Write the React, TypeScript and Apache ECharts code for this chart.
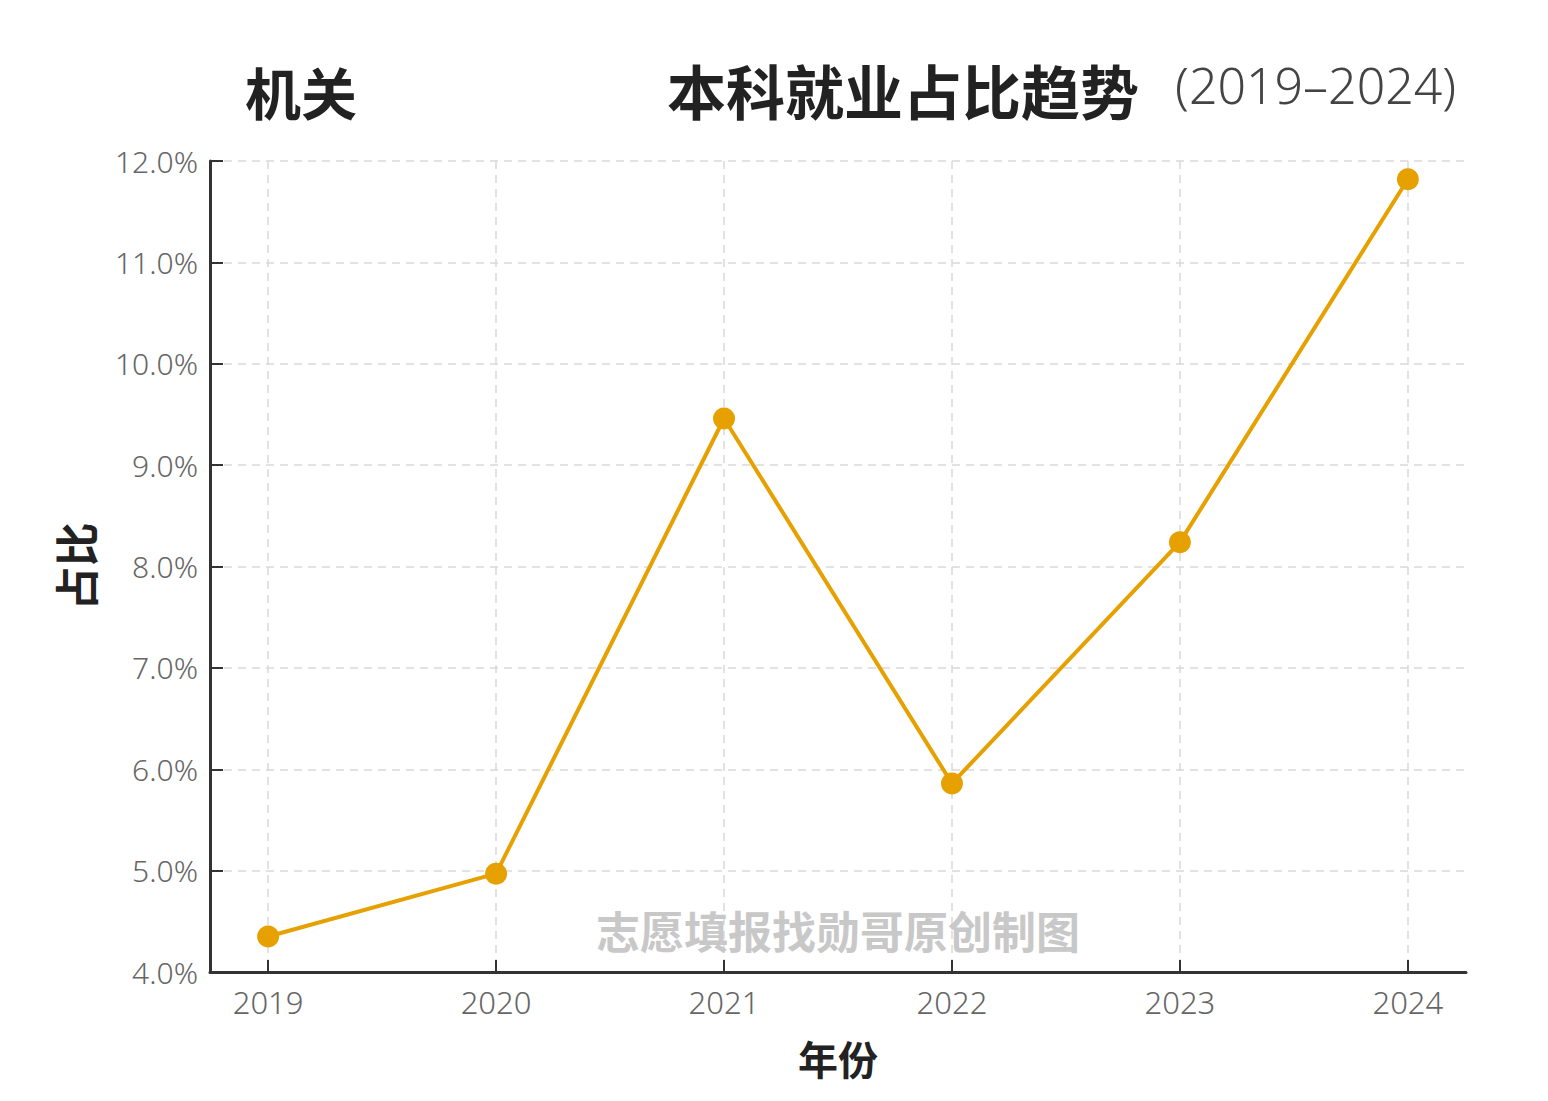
import React, { useEffect, useRef } from "react";
import * as echarts from "echarts";

const years = [2019, 2020, 2021, 2022, 2023, 2024];
const shares = [4.35, 4.97, 9.46, 5.86, 8.24, 11.82];
const titleLeft = "机关";
const titleMain = "本科就业占比趋势";
const titleYears = "(2019–2024)";
const yName = "占比";
const xName = "年份";
const watermark = "志愿填报找勋哥原创制图";

export default function App() {
  const ref = useRef<HTMLDivElement>(null);
  useEffect(() => {
    const chart = echarts.init(ref.current!, null, { renderer: "svg" });
    const lightFont = "'Noto Sans', 'DejaVu Sans', sans-serif";
    const cjk = "'Noto Sans CJK SC', sans-serif";
    chart.setOption({
      animation: false,
      backgroundColor: "#ffffff",
      grid: { left: 210, right: 82, top: 161, bottom: 129, containLabel: false },
      xAxis: {
        type: "value",
        min: 2018.745,
        max: 2024.255,
        name: xName,
        nameLocation: "middle",
        nameGap: 66,
        nameTextStyle: { fontFamily: cjk, fontWeight: "bold", fontSize: 40, color: "#222" },
        axisLine: { show: true, onZero: false, lineStyle: { color: "#333", width: 3 } },
        axisTick: { show: true, inside: true, length: 12, lineStyle: { color: "#333", width: 2 }, customValues: years },
        axisLabel: {
          customValues: years,
          formatter: (v: number) => String(Math.round(v)),
          fontFamily: lightFont,
          fontWeight: 300,
          fontSize: 31,
          color: "#666",
          margin: 14,
        },
        splitLine: { show: true, lineStyle: { color: "#d9d9d9", type: [8, 6], width: 1.5 } },
      },
      yAxis: {
        type: "value",
        min: 4,
        max: 12,
        interval: 1,
        name: yName,
        nameLocation: "middle",
        nameRotate: 90,
        nameGap: 113,
        nameTextStyle: { fontFamily: cjk, fontWeight: "bold", fontSize: 44, color: "#222" },
        axisLine: { show: true, lineStyle: { color: "#333", width: 3 } },
        axisTick: { show: true, inside: true, length: 13, lineStyle: { color: "#333", width: 2 } },
        axisLabel: {
          formatter: (v: number) => v.toFixed(1) + "%",
          fontFamily: lightFont,
          fontWeight: 300,
          fontSize: 30,
          color: "#666",
          margin: 12,
        },
        splitLine: { show: true, lineStyle: { color: "#d9d9d9", type: [8, 6], width: 1.5 } },
      },
      graphic: [
        {
          type: "text",
          left: 245,
          top: 62,
          style: { text: titleLeft, font: `bold 56px ${cjk}`, fill: "#222" },
        },
        {
          type: "text",
          left: 667,
          top: 60,
          style: { text: titleMain, font: `bold 59px ${cjk}`, fill: "#222" },
        },
        {
          type: "text",
          left: 1175,
          top: 60,
          style: { text: titleYears, font: `300 50px ${lightFont}`, fill: "#444" },
        },
        {
          type: "text",
          left: 596,
          top: 908,
          z: 10,
          style: { text: watermark, font: `bold 44px ${cjk}`, fill: "#c8c8c8" },
        },
      ],
      series: [
        {
          type: "line",
          data: years.map((y, i) => [y, shares[i]]),
          symbol: "circle",
          symbolSize: 22,
          itemStyle: { color: "#E6A000" },
          lineStyle: { color: "#E6A000", width: 4 },
        },
      ],
    });
    return () => chart.dispose();
  }, []);
  return (
    <div
      ref={ref}
      style={{ position: "absolute", left: 0, top: 0, width: 1548, height: 1101 }}
    />
  );
}
